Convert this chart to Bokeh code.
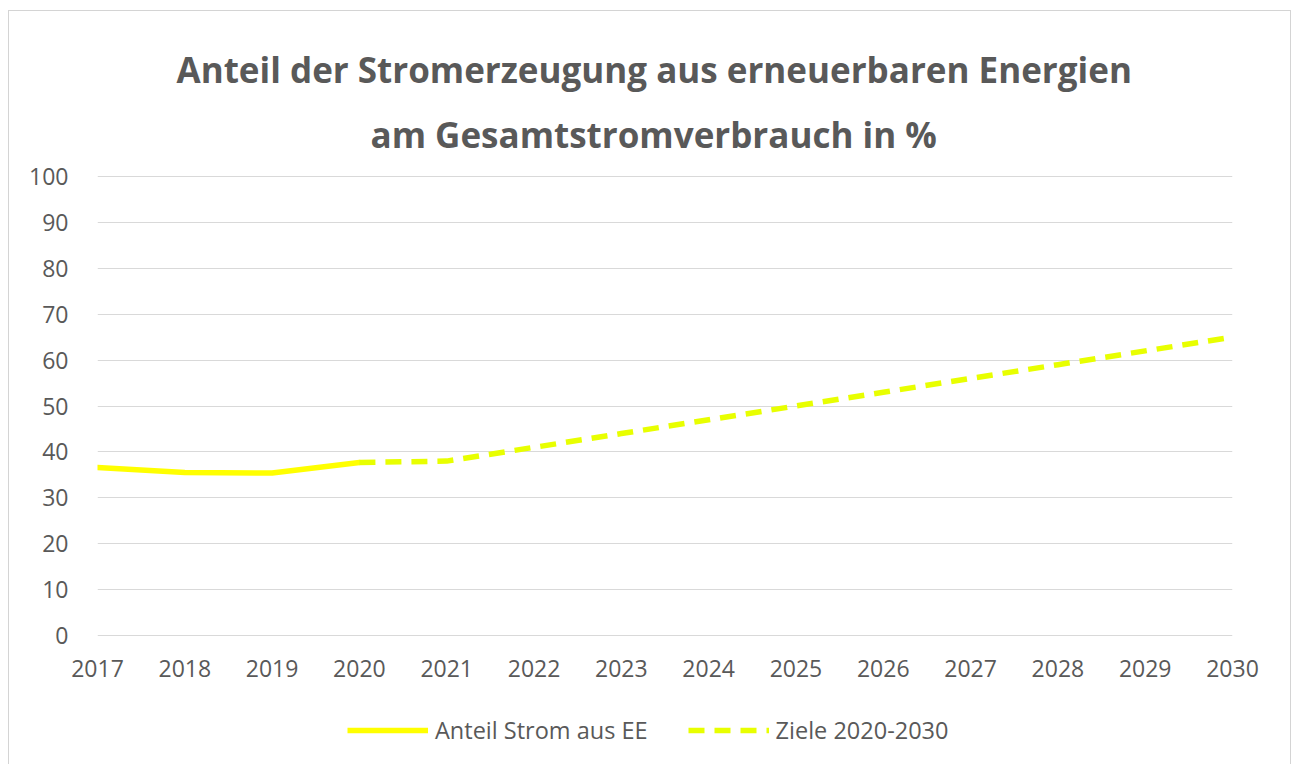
from bokeh.plotting import figure
from bokeh.layouts import column
from bokeh.models import Legend, LegendItem, FixedTicker, Range1d, Title
from bokeh.embed import file_html
from bokeh.resources import INLINE

# ---- data ----
years_actual = [2017, 2018, 2019, 2020]
share_actual = [36.6, 35.5, 35.4, 37.7]
years_target = [2020, 2021, 2022, 2023, 2024, 2025, 2026, 2027, 2028, 2029, 2030]
share_target = [37.7, 38.0, 41.0, 44.0, 47.0, 50.0, 53.0, 56.0, 59.0, 62.0, 65.0]
year_ticks = list(range(2017, 2031))
y_ticks = [0, 10, 20, 30, 40, 50, 60, 70, 80, 90, 100]
title_line1 = "Anteil der Stromerzeugung aus erneuerbaren Energien"
title_line2 = "am Gesamtstromverbrauch in %"
label_actual = "Anteil Strom aus EE"
label_target = "Ziele 2020-2030"

FONT = "Open Sans"
GREY = "#595959"
SOLID_COLOR = "#FFFF00"
DASH_COLOR = "#E8FF00"
DASH = "16 10"

p = figure(width=1281, height=690, output_backend="svg", toolbar_location=None,
           x_range=Range1d(2017, 2030), y_range=Range1d(-0.2, 100.2),
           min_border_left=88, min_border_right=58, min_border_top=164, min_border_bottom=65)
p.outline_line_color = None
p.background_fill_color = "white"
p.border_fill_color = "white"

t2 = Title(text=title_line2, align="left", offset=273, standoff=36,
           text_font=FONT, text_font_size="35px", text_font_style="bold", text_color=GREY)
t1 = Title(text=title_line1, align="left", offset=79, standoff=-4,
           text_font=FONT, text_font_size="35px", text_font_style="bold", text_color=GREY)
p.add_layout(t2, "above")
p.add_layout(t1, "above")

# axes
p.xaxis.ticker = FixedTicker(ticks=year_ticks)
p.yaxis.ticker = FixedTicker(ticks=y_ticks)
for ax in (p.xaxis[0], p.yaxis[0]):
    ax.axis_line_color = None
    ax.major_tick_line_color = None
    ax.minor_tick_line_color = None
    ax.major_label_text_font = FONT
    ax.major_label_text_font_size = "23px"
    ax.major_label_text_color = GREY
p.yaxis.major_label_standoff = 23
p.xaxis.major_label_standoff = 17

p.xgrid.grid_line_color = None
p.ygrid.grid_line_color = "#d9d9d9"
p.ygrid.grid_line_width = 1

p.line(years_actual, share_actual, line_color=SOLID_COLOR, line_width=5.5,
       line_cap="round", line_join="round")
p.line(years_target, share_target, line_color=DASH_COLOR, line_width=5.5,
       line_dash=DASH, line_join="round")

# legend strip below the chart (its lines lie outside its visible range; only the legend shows)
lf = figure(width=1281, height=63, output_backend="svg", toolbar_location=None,
            x_range=Range1d(0, 1), y_range=Range1d(0, 1),
            x_axis_location=None, y_axis_location=None,
            min_border_left=0, min_border_right=0, min_border_top=0, min_border_bottom=0)
lf.outline_line_color = None
lf.grid.visible = False
lf.border_fill_color = "white"
l1 = lf.line(years_actual, share_actual, line_color=SOLID_COLOR, line_width=5.5)
l2 = lf.line(years_target, share_target, line_color=DASH_COLOR, line_width=5.5, line_dash=DASH)

legend = Legend(items=[LegendItem(label=label_actual, renderers=[l1]),
                       LegendItem(label=label_target, renderers=[l2])],
                location=(250, 18), orientation="horizontal",
                glyph_width=81, glyph_height=20, label_standoff=7, spacing=40,
                padding=5, margin=0, border_line_color=None, background_fill_alpha=0,
                label_text_font=FONT, label_text_font_size="23.5px", label_text_color=GREY)
lf.add_layout(legend)

layout = column(p, lf, spacing=0,
                styles={"border-left": "1px solid #d4d4d4", "border-top": "1px solid #d4d4d4",
                        "border-right": "1px solid #d4d4d4", "margin-left": "8px", "margin-top": "10px"})

open("out.html", "w").write(file_html(layout, INLINE))
